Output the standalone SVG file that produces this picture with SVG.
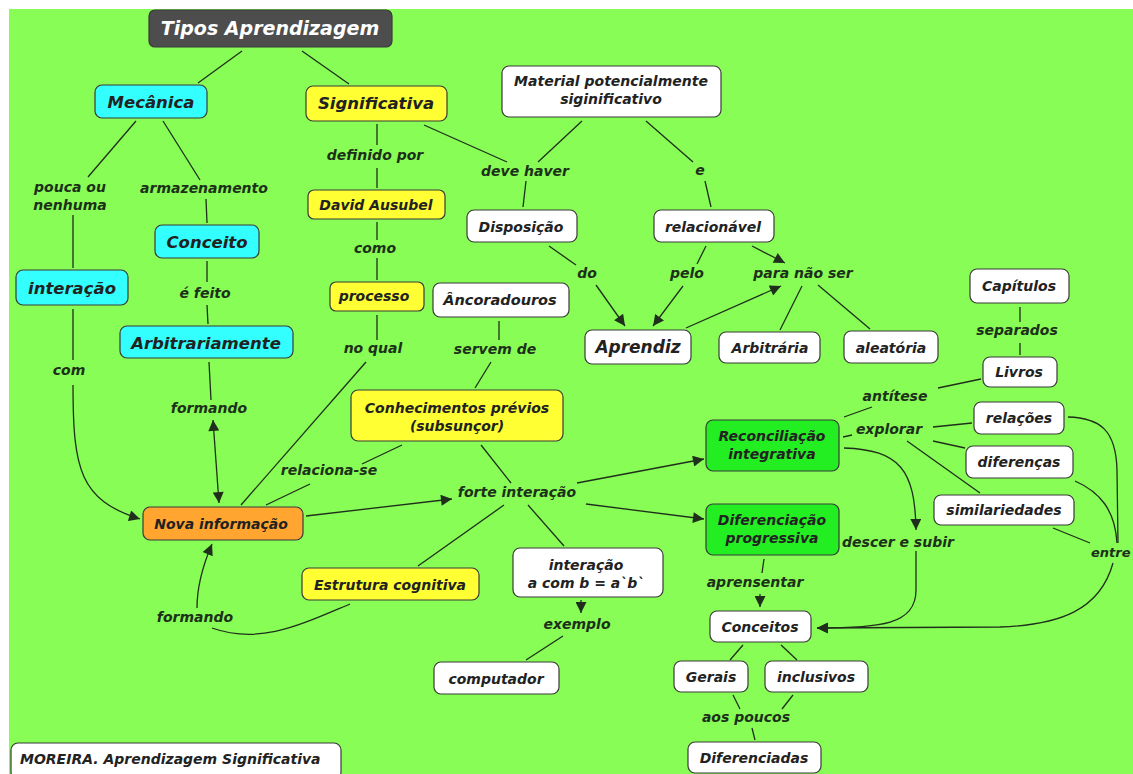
<svg xmlns="http://www.w3.org/2000/svg" width="1133" height="774" viewBox="0 0 1133 774">
<style>
.n{stroke:#3a3a3a;stroke-width:1.2}
.w{fill:#ffffff}.y{fill:#ffff33}.cy{fill:#33ffff}.o{fill:#ffa530}.g{fill:#22ee22}
.t{font-family:"DejaVu Sans",Verdana,sans-serif;font-weight:bold;font-style:italic;fill:#222;text-anchor:middle}
.l{font-family:"DejaVu Sans",Verdana,sans-serif;font-weight:bold;font-style:italic;font-size:14px;fill:#1d3019;text-anchor:middle}
.c path,.c line{stroke:#1f2f1c;stroke-width:1.3;fill:none}
</style>
<defs>
<marker id="a" viewBox="0 0 10 10" refX="10" refY="5" markerUnits="userSpaceOnUse" markerWidth="13" markerHeight="11" orient="auto-start-reverse"><path d="M0,0 L10,5 L0,10 z" fill="#1f2f1c"/></marker>
</defs>
<rect width="1133" height="774" fill="#ffffff"/>
<rect x="9" y="9" width="1124" height="765" fill="#87fd55"/>

<g class="c">
<line x1="242" y1="51" x2="198" y2="83"/>
<line x1="302" y1="51" x2="349" y2="84"/>
<line x1="136" y1="121" x2="88" y2="177"/>
<line x1="163" y1="121" x2="200" y2="180"/>
<line x1="206" y1="199" x2="207" y2="223"/>
<line x1="73" y1="215" x2="73" y2="268"/>
<line x1="207" y1="261" x2="207" y2="282"/>
<line x1="207" y1="305" x2="208" y2="324"/>
<line x1="209" y1="362" x2="211" y2="400"/>
<line x1="73" y1="309" x2="73" y2="360"/>
<line x1="213" y1="420" x2="219" y2="503" marker-start="url(#a)" marker-end="url(#a)"/>
<path d="M73,385 C73,470 80,500 140,519" marker-end="url(#a)"/>
<line x1="377" y1="124" x2="377" y2="145"/>
<line x1="377" y1="168" x2="377" y2="188"/>
<line x1="377" y1="222" x2="377" y2="240"/>
<line x1="377" y1="258" x2="377" y2="280"/>
<line x1="377" y1="315" x2="377" y2="340"/>
<line x1="366" y1="362" x2="241" y2="505"/>
<line x1="402" y1="445" x2="362" y2="464"/>
<line x1="310" y1="484" x2="266" y2="505"/>
<line x1="306" y1="516" x2="452" y2="499" marker-end="url(#a)"/>
<line x1="481" y1="445" x2="511" y2="483"/>
<line x1="577" y1="483" x2="704" y2="459" marker-end="url(#a)"/>
<line x1="586" y1="504" x2="704" y2="519" marker-end="url(#a)"/>
<line x1="504" y1="505" x2="418" y2="566"/>
<line x1="528" y1="505" x2="564" y2="546"/>
<line x1="581" y1="600" x2="581" y2="613" marker-end="url(#a)"/>
<line x1="563" y1="636" x2="526" y2="660"/>
<path d="M350,604 C300,625 260,645 212,628"/>
<path d="M197,608 C197,585 203,565 212,544" marker-end="url(#a)"/>
<line x1="499" y1="321" x2="499" y2="340"/>
<line x1="491" y1="362" x2="475" y2="388"/>
<line x1="424" y1="125" x2="507" y2="162"/>
<line x1="582" y1="121" x2="538" y2="162"/>
<line x1="526" y1="181" x2="523" y2="207"/>
<line x1="549" y1="246" x2="576" y2="265"/>
<line x1="596" y1="285" x2="625" y2="326" marker-end="url(#a)"/>
<line x1="646" y1="121" x2="693" y2="162"/>
<line x1="705" y1="181" x2="711" y2="207"/>
<line x1="706" y1="246" x2="697" y2="264"/>
<line x1="683" y1="286" x2="653" y2="326" marker-end="url(#a)"/>
<line x1="752" y1="246" x2="785" y2="263" marker-end="url(#a)"/>
<line x1="686" y1="328" x2="781" y2="286" marker-end="url(#a)"/>
<line x1="802" y1="286" x2="780" y2="330"/>
<line x1="818" y1="285" x2="870" y2="329"/>
<line x1="1020" y1="307" x2="1020" y2="322"/>
<line x1="1020" y1="343" x2="1020" y2="355"/>
<line x1="981" y1="379" x2="938" y2="388"/>
<line x1="872" y1="407" x2="844" y2="417"/>
<line x1="843" y1="437" x2="852" y2="435"/>
<line x1="933" y1="427" x2="972" y2="423"/>
<line x1="933" y1="441" x2="965" y2="448"/>
<line x1="907" y1="441" x2="980" y2="493"/>
<path d="M1068,417 C1100,418 1116,430 1117,470 L1118,543"/>
<path d="M1075,481 C1100,492 1115,510 1117,543"/>
<line x1="1053" y1="528" x2="1090" y2="543"/>
<path d="M1113,563 C1100,610 1060,625 1000,627 L817,628" marker-end="url(#a)"/>
<path d="M844,448 C900,450 915,470 916,530" marker-end="url(#a)"/>
<path d="M916,551 L916,590 C916,625 880,628 817,628" marker-end="url(#a)"/>
<line x1="764" y1="559" x2="762" y2="573"/>
<line x1="760" y1="594" x2="760" y2="607" marker-end="url(#a)"/>
<line x1="743" y1="645" x2="730" y2="660"/>
<line x1="781" y1="645" x2="797" y2="660"/>
<line x1="733" y1="695" x2="740" y2="709"/>
<line x1="793" y1="695" x2="782" y2="709"/>
<line x1="752" y1="728" x2="755" y2="740"/>
</g>

<g id="tipos"><rect class="n" x="149" y="10" width="243" height="37" rx="6" fill="#4d4d4d"/><text class="t" x="270" y="35" font-size="19" style="fill:#fff">Tipos Aprendizagem</text></g>
<g id="mecanica"><rect class="n cy" x="95" y="85" width="112" height="33" rx="7"/><text class="t" x="151" y="108" font-size="16.5">Mecânica</text></g>
<g id="significativa"><rect class="n y" x="306" y="86" width="141" height="35" rx="7"/><text class="t" x="376" y="109" font-size="16.5">Significativa</text></g>
<g id="l-pouca"><text class="l" x="70" y="192">pouca ou</text><text class="l" x="70" y="210">nenhuma</text></g>
<g id="l-armaz"><text class="l" x="204" y="193">armazenamento</text></g>
<g id="conceito"><rect class="n cy" x="155" y="225" width="104" height="33" rx="7"/><text class="t" x="207" y="248" font-size="16.5">Conceito</text></g>
<g id="interacao1"><rect class="n cy" x="16" y="270" width="112" height="35" rx="7"/><text class="t" x="72" y="294" font-size="16.5">interação</text></g>
<g id="l-efeito"><text class="l" x="205" y="298">é feito</text></g>
<g id="arbitrariamente"><rect class="n cy" x="120" y="326" width="173" height="32" rx="7"/><text class="t" x="206" y="349" font-size="16.5">Arbitrariamente</text></g>
<g id="l-com"><text class="l" x="69" y="375">com</text></g>
<g id="l-formando1"><text class="l" x="209" y="413">formando</text></g>
<g id="l-definido"><text class="l" x="375" y="160">definido por</text></g>
<g id="david"><rect class="n y" x="308" y="190" width="137" height="29" rx="6"/><text class="t" x="376" y="210" font-size="14">David Ausubel</text></g>
<g id="l-como"><text class="l" x="375" y="253">como</text></g>
<g id="processo"><rect class="n y" x="330" y="282" width="94" height="29" rx="6"/><text class="t" x="374" y="301" font-size="14">processo</text></g>
<g id="l-noqual"><text class="l" x="373" y="353">no qual</text></g>
<g id="ancoradouros"><rect class="n w" x="433" y="283" width="136" height="34" rx="7"/><text class="t" x="500" y="305" font-size="14.5">Âncoradouros</text></g>
<g id="l-servem"><text class="l" x="495" y="354">servem de</text></g>
<g id="conhecimentos"><rect class="n y" x="351" y="390" width="212" height="51" rx="7"/><text class="t" x="457" y="413" font-size="14">Conhecimentos prévios</text><text class="t" x="457" y="431" font-size="14">(subsunçor)</text></g>
<g id="l-relaciona"><text class="l" x="329" y="475">relaciona-se</text></g>
<g id="nova"><rect class="n o" x="143" y="507" width="160" height="33" rx="7"/><text class="t" x="221" y="529" font-size="14">Nova informação</text></g>
<g id="l-forte"><text class="l" x="517" y="497">forte interação</text></g>
<g id="estrutura"><rect class="n y" x="302" y="568" width="177" height="32" rx="7"/><text class="t" x="390" y="590" font-size="14">Estrutura cognitiva</text></g>
<g id="interacao2"><rect class="n w" x="513" y="548" width="150" height="49" rx="7"/><text class="t" x="586" y="570" font-size="14">interação</text><text class="t" x="586" y="588" font-size="14">a com b = a`b`</text></g>
<g id="l-exemplo"><text class="l" x="577" y="629">exemplo</text></g>
<g id="computador"><rect class="n w" x="434" y="662" width="125" height="32" rx="7"/><text class="t" x="496" y="684" font-size="14">computador</text></g>
<g id="l-formando2"><text class="l" x="195" y="622">formando</text></g>
<g id="material"><rect class="n w" x="502" y="66" width="219" height="51" rx="7"/><text class="t" x="611" y="86" font-size="14">Material potencialmente</text><text class="t" x="611" y="104" font-size="14">siginificativo</text></g>
<g id="l-deve"><text class="l" x="525" y="176">deve haver</text></g>
<g id="disposicao"><rect class="n w" x="467" y="210" width="110" height="32" rx="7"/><text class="t" x="521" y="232" font-size="14">Disposição</text></g>
<g id="l-do"><text class="l" x="587" y="278">do</text></g>
<g id="l-e"><text class="l" x="700" y="175">e</text></g>
<g id="relacionavel"><rect class="n w" x="654" y="210" width="120" height="32" rx="7"/><text class="t" x="713" y="232" font-size="14">relacionável</text></g>
<g id="l-pelo"><text class="l" x="687" y="278">pelo</text></g>
<g id="l-paranao"><text class="l" x="803" y="278">para não ser</text></g>
<g id="aprendiz"><rect class="n w" x="585" y="330" width="106" height="34" rx="7"/><text class="t" x="638" y="353" font-size="17">Aprendiz</text></g>
<g id="arbitraria"><rect class="n w" x="719" y="332" width="101" height="31" rx="7"/><text class="t" x="770" y="353" font-size="14">Arbitrária</text></g>
<g id="aleatoria"><rect class="n w" x="844" y="331" width="94" height="32" rx="7"/><text class="t" x="891" y="353" font-size="14">aleatória</text></g>
<g id="capitulos"><rect class="n w" x="970" y="269" width="99" height="34" rx="7"/><text class="t" x="1019" y="291" font-size="14">Capítulos</text></g>
<g id="l-separados"><text class="l" x="1017" y="335">separados</text></g>
<g id="livros"><rect class="n w" x="983" y="357" width="74" height="30" rx="7"/><text class="t" x="1019" y="377" font-size="14">Livros</text></g>
<g id="l-antitese"><text class="l" x="895" y="401">antítese</text></g>
<g id="reconciliacao"><rect class="n g" x="706" y="420" width="133" height="51" rx="7"/><text class="t" x="772" y="441" font-size="14">Reconciliação</text><text class="t" x="772" y="459" font-size="14">integrativa</text></g>
<g id="l-explorar"><text class="l" x="889" y="434">explorar</text></g>
<g id="relacoes"><rect class="n w" x="974" y="402" width="90" height="32" rx="7"/><text class="t" x="1019" y="423" font-size="14">relações</text></g>
<g id="diferencas"><rect class="n w" x="966" y="446" width="107" height="32" rx="7"/><text class="t" x="1019" y="467" font-size="14">diferenças</text></g>
<g id="similariedades"><rect class="n w" x="934" y="495" width="140" height="30" rx="7"/><text class="t" x="1004" y="515" font-size="14">similariedades</text></g>
<g id="l-entre"><text class="l" x="1091" y="557" font-size="13" style="text-anchor:start;font-size:13px">entre</text></g>
<g id="l-descer"><text class="l" x="898" y="547">descer e subir</text></g>
<g id="diferenciacao"><rect class="n g" x="706" y="504" width="133" height="51" rx="7"/><text class="t" x="772" y="525" font-size="14">Diferenciação</text><text class="t" x="772" y="543" font-size="14">progressiva</text></g>
<g id="l-aprensentar"><text class="l" x="755" y="587">aprensentar</text></g>
<g id="conceitos"><rect class="n w" x="710" y="611" width="101" height="31" rx="7"/><text class="t" x="760" y="632" font-size="14">Conceitos</text></g>
<g id="gerais"><rect class="n w" x="674" y="661" width="74" height="31" rx="7"/><text class="t" x="711" y="682" font-size="14">Gerais</text></g>
<g id="inclusivos"><rect class="n w" x="765" y="661" width="103" height="31" rx="7"/><text class="t" x="816" y="682" font-size="14">inclusivos</text></g>
<g id="l-aospoucos"><text class="l" x="746" y="722">aos poucos</text></g>
<g id="diferenciadas"><rect class="n w" x="688" y="742" width="133" height="31" rx="7"/><text class="t" x="754" y="763" font-size="14">Diferenciadas</text></g>
<g id="moreira"><rect class="n w" x="11" y="743" width="330" height="36" rx="7"/><text class="t" x="20" y="764" font-size="14" style="text-anchor:start">MOREIRA. Aprendizagem Significativa</text></g>
</svg>
